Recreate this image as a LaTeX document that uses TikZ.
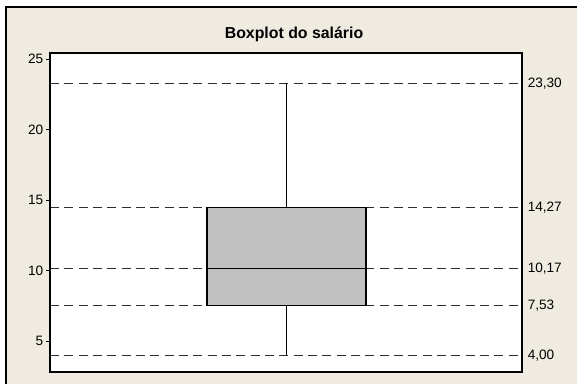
\documentclass[tikz,border=0pt]{standalone}
\usepackage{fontspec}
\setmainfont{Liberation Sans}
\usetikzlibrary{positioning}
\definecolor{fundo}{RGB}{239,235,225}
\definecolor{caixa}{RGB}{192,192,192}
\definecolor{tracejado}{RGB}{45,45,45}
\begin{document}
\begin{tikzpicture}[x=0.75pt,y=10.575pt,
  quadro/.style={draw=black,line width=0.8pt},
  guia/.style={draw=tracejado,line width=0.8pt,dash pattern=on 6.75pt off 4pt},
  rotulo/.style={font=\fontsize{10.2}{11}\selectfont,inner sep=0pt}]
\clip (0,2.043) rectangle (577,29.206);
\fill[white] (0,2.043) rectangle (577,29.206);
% moldura de fundo
\draw[quadro,fill=fundo] (6,28.709) rectangle (600,0);
\node[font=\bfseries\fontsize{11.9}{13}\selectfont] (titulo) at (294,26.79) {Boxplot do salário};
% area do grafico
\coordinate (SW) at (50,2.823);
\coordinate (NE) at (522,25.447);
\fill[white] (SW) rectangle (NE);
% linhas de referencia
\foreach \v/\txt [count=\i] in {23.30/{23,30},14.48/{14,27},10.17/{10,17},7.53/{7,53},4.00/{4,00}} {
  \draw[guia] (50,\v) -- (522,\v);
  \node[rotulo,anchor=west] (r\i) at (527.5,\v) {\txt};
}
% caixa e bigodes
\coordinate (Q1) at (207,7.53);
\coordinate (Q3) at (366,14.48);
\draw[quadro] (286.5,4.00) -- (286.5,7.53);
\draw[quadro] (286.5,14.48) -- (286.5,23.30);
\draw[quadro,fill=caixa] (Q1) rectangle (Q3);
\draw[quadro] (207,10.17) -- (366,10.17);
% eixo
\foreach \t in {5,10,...,25} {
  \draw[quadro] (46,\t) -- (50,\t);
  \node[rotulo,anchor=east] (y\t) at (43.5,\t) {\t};
}
\draw[quadro] (SW) rectangle (NE);
\end{tikzpicture}
\end{document}
